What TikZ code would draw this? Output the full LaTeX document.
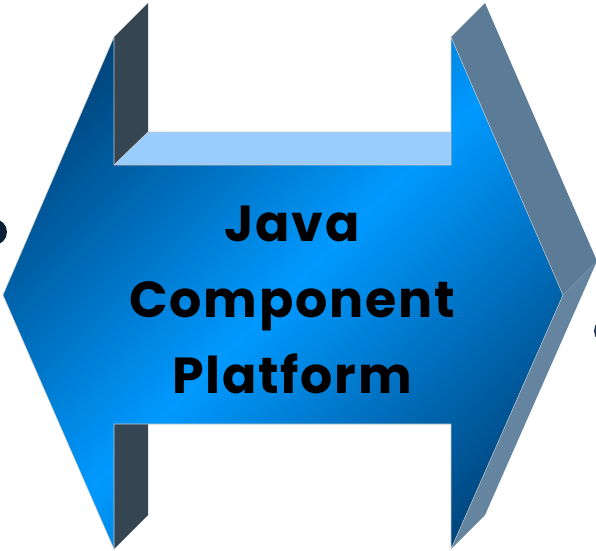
\documentclass[tikz,border=0pt]{standalone}
\usepackage{fontspec}
\newfontfamily\labelfont[LetterSpace=3.5]{Poppins}
\definecolor{arrowdark}{RGB}{0,48,92}
\definecolor{arrowbright}{RGB}{0,153,255}
\definecolor{stemside}{RGB}{54,69,82}
\definecolor{headside}{RGB}{92,123,150}
\definecolor{headsidelow}{RGB}{100,132,160}
\definecolor{bartop}{RGB}{153,204,255}
\definecolor{edgegrey}{RGB}{200,200,200}
\definecolor{blobleft}{RGB}{11,31,53}
\definecolor{blobright}{RGB}{30,61,92}
\pgfdeclareverticalshading{frontshade}{100bp}{color(0bp)=(arrowdark); color(20bp)=(arrowdark); color(50bp)=(arrowbright); color(80bp)=(arrowdark); color(100bp)=(arrowdark)}
\begin{document}
\begin{tikzpicture}[x=0.75pt,y=0.75pt,yscale=-1,xscale=1]
\useasboundingbox (0,0) rectangle (596,550);

%Shape: Circle (cut off at the left)
\fill [blobleft] (-6,232) circle [radius=13];
%Shape: Circle (cut off at the right)
\fill [blobright] (607,331) circle [radius=13];

%Shape: Polygon, side of upper left stem
\fill [stemside] (114,37) -- (148,3) -- (148,132) -- (114,165) -- cycle ;
%Shape: Polygon, side of lower left stem
\fill [stemside] (114,424) -- (148,424) -- (148,515) -- (114,549) -- cycle ;
%Shape: Polygon, side of upper right head
\fill [headside] (451,37) -- (485,3) -- (597,261) -- (563,295) -- cycle ;
%Shape: Polygon, side of lower right head
\fill [headsidelow] (563,295) -- (597,261) -- (485,515) -- (451,549) -- cycle ;
%Shape: Polygon, top of the bar
\draw [edgegrey, line width=0.4pt][fill=bartop] (114,165) -- (148,132) -- (451,132) -- (451,165) -- cycle ;

%Shape: Polygon, front of the double arrow
\begin{scope}
\clip (3,295) -- (114,37) -- (114,165) -- (451,165) -- (451,37) -- (563,295)
  -- (451,549) -- (451,424) -- (114,424) -- (114,549) -- cycle ;
\shade [shading=frontshade, shading angle=45] (-20,-20) rectangle (600,600);
\end{scope}
\draw [edgegrey, line width=0.4pt] (3,295) -- (114,37) -- (114,165) -- (451,165) -- (451,37) -- (563,295)
  -- (451,549) -- (451,424) -- (114,424) -- (114,549) -- cycle ;

% Text Node
\draw (292,300) node (label) [inner sep=0.75pt, align=center, font=\labelfont\bfseries\fontsize{38}{57}\selectfont] {Java\\Component\\Platform};

\end{tikzpicture}
\end{document}
